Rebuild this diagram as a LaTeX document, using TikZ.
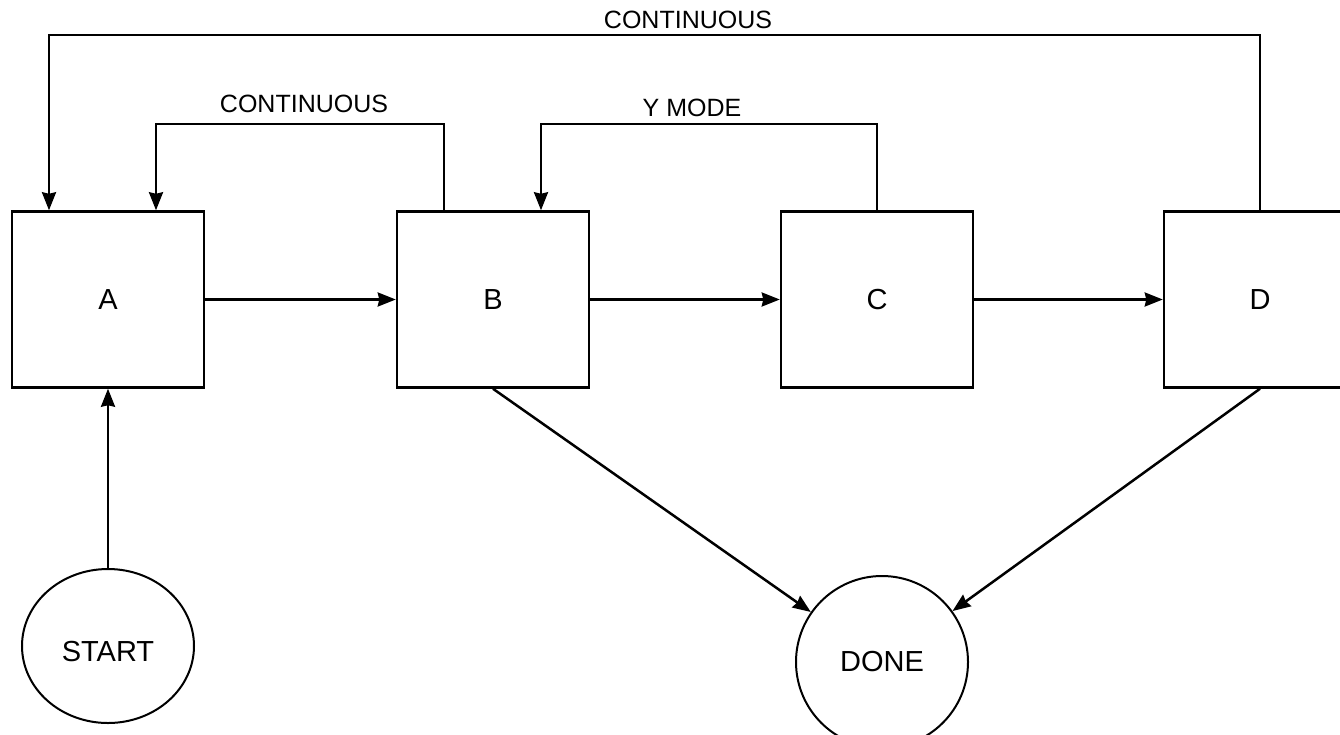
\documentclass[tikz,border=0pt]{standalone}
\usepackage{fontspec}
\setmainfont{Liberation Sans}
\usetikzlibrary{arrows.meta,shapes.geometric}
\begin{document}
\begin{tikzpicture}[x=1pt,y=-1pt,line width=2.5pt,
  box/.style={draw,rectangle,minimum width=192pt,minimum height=176pt,inner sep=0pt,font=\fontsize{29}{32}\selectfont},
  term/.style={draw,ellipse,line width=2pt,inner sep=0pt,font=\fontsize{29}{32}\selectfont},
  txt/.style={inner sep=0pt,font=\fontsize{29}{32}\selectfont},
  lab/.style={font=\fontsize{25}{28}\selectfont,inner sep=0pt},
  arr/.style={-{Stealth[length=18pt,width=14pt,inset=1.5pt]}}]
\useasboundingbox (0,0) rectangle (1340,734);
\clip (0,0) rectangle (1340,734);
\node[box] (A) at (108,299.5) {A};
\node[box] (B) at (493,299.5) {B};
\node[box] (C) at (877,299.5) {C};
\node[box] (D) at (1260,299.5) {D};
\node[term,minimum width=172pt,minimum height=154pt] (S) at (108,646) {};
\node[txt] (St) at (108,652) {START};
\node[term,minimum width=172pt,minimum height=172pt] (E) at (882,662) {DONE};
\node[lab] (l1) at (688,20) {CONTINUOUS};
\node[lab] (l2) at (304,104) {CONTINUOUS};
\node[lab] (l3) at (692,108) {Y MODE};
\draw[arr] (A.east) -- (B.west);
\draw[arr] (B.east) -- (C.west);
\draw[arr] (C.east) -- (D.west);
\draw[arr] (S.north) -- (A.south);
\draw[arr] (B.south) -- (E);
\draw[arr] (D.south) -- (E);
\draw[arr] (D.north) -- (D.north |- 0,35) -| ([xshift=-59pt]A.north);
\draw[arr] ([xshift=-49pt]B.north) -- ([xshift=-49pt]B.north |- 0,124) -| ([xshift=48pt]A.north);
\draw[arr] (C.north) -- (C.north |- 0,124) -| ([xshift=48pt]B.north);
\end{tikzpicture}
\end{document}
